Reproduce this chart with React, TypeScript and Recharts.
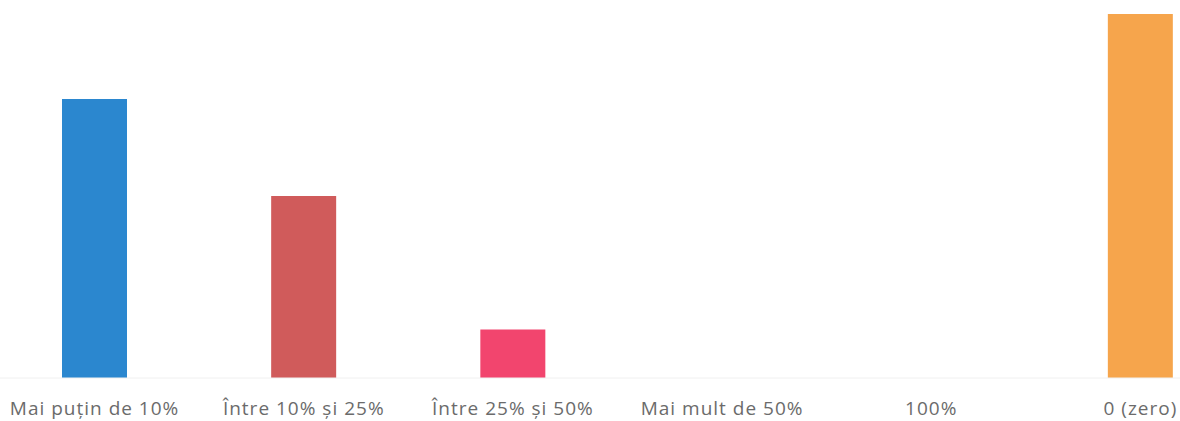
import React from "react";
import { BarChart, Bar, XAxis, YAxis, Cell } from "recharts";

const categories = ["Mai puțin de 10%", "Între 10% și 25%", "Între 25% și 50%", "Mai mult de 50%", "100%", "0 (zero)"];
const values = [23, 15, 4, 0, 0, 30];
const colors = ["#2b87cf", "#d05b5b", "#f2456e", "#f2456e", "#f2456e", "#f6a54c"];

const data = categories.map((c, i) => ({ name: c, value: values[i] }));

export default function App() {
  return (
    <div style={{ position: "absolute", left: 0, top: 0, background: "#fff" }}>
      <BarChart width={1180} height={421} data={data} margin={{ top: 14, right: -65, left: -10, bottom: 0 }} barCategoryGap={0}>
        <XAxis
          dataKey="name"
          axisLine={{ stroke: "#f0f0f0" }}
          tickLine={false}
          height={43}
          interval={0}
          tick={{ fill: "#6b6b6b", fontSize: 19, fontFamily: "Open Sans", letterSpacing: 1 }}
          tickMargin={18}
        />
        <YAxis hide domain={[0, 30]} />
        <Bar dataKey="value" barSize={65} isAnimationActive={false}>
          {data.map((d, i) => (
            <Cell key={i} fill={colors[i]} />
          ))}
        </Bar>
      </BarChart>
    </div>
  );
}
